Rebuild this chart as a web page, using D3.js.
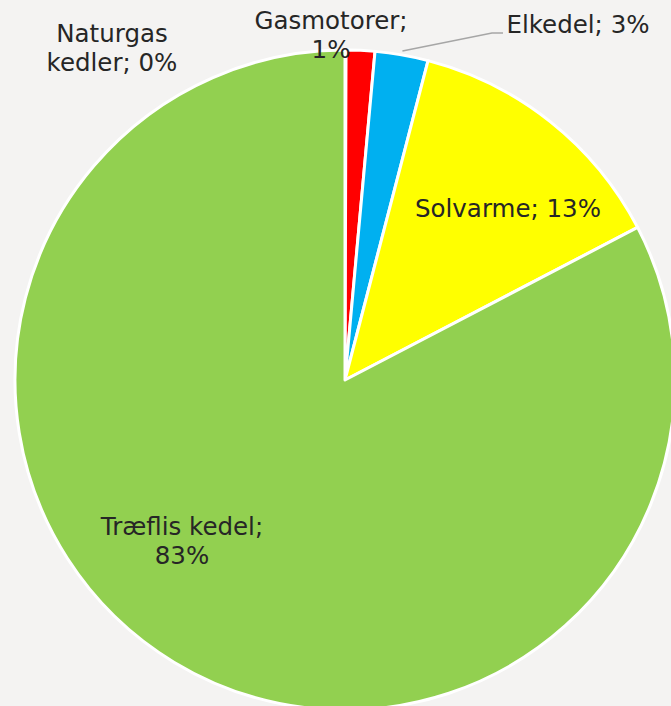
<!DOCTYPE html>
<html>
<head>
<meta charset="utf-8">
<script src="https://cdn.jsdelivr.net/npm/d3@7"></script>
<style>
  html, body { margin: 0; padding: 0; background: #f4f3f2; }
  svg { display: block; }
  .lbl { font-family: "DejaVu Sans", Verdana, sans-serif; font-size: 24.5px; fill: #262626; text-anchor: middle; }
</style>
</head>
<body>
<div id="chart"></div>
<script>
// data (share of heat production)
var categories = ["Naturgas kedler", "Gasmotorer", "Elkedel", "Solvarme", "Træflis kedel"];
var values     = [0.05, 1.4, 2.6, 13.3, 82.65];
var labelPcts  = ["0%", "1%", "3%", "13%", "83%"];
var colors     = ["#a5a5a5", "#ff0000", "#00b0f0", "#ffff00", "#92d050"];

var W = 671, H = 706;
var CX = 345, CY = 380, R = 330;

// label placement (Excel style, hand positioned), lines in px
var labelLayout = [
    { x: 112, y: 42, lines: ["Naturgas", "kedler; 0%"] },
    { x: 331, y: 29, lines: ["Gasmotorer;", "1%"] },
    { x: 578, y: 33, lines: ["Elkedel; 3%"] },
    { x: 508, y: 217, lines: ["Solvarme; 13%"] },
    { x: 182, y: 535, lines: ["Træflis kedel;", "83%"] }
];

var svg = d3.select("#chart").append("svg")
    .attr("width", W)
    .attr("height", H);

var pie = d3.pie().sort(null).value(function(d){ return d; });
var arc = d3.arc().innerRadius(0).outerRadius(R);

var g = svg.append("g").attr("transform", "translate(" + CX + "," + CY + ")");

g.selectAll("path.slice")
    .data(pie(values))
    .enter().append("path")
    .attr("class", "slice")
    .attr("d", arc)
    .attr("fill", function(d, i){ return colors[i]; })
    .attr("stroke", "#ffffff")
    .attr("stroke-width", 3)
    .attr("stroke-linejoin", "round");

// leader line for Elkedel
var elk = pie(values)[2];
var midA = (elk.startAngle + elk.endAngle) / 2;
var p0 = [CX + Math.sin(midA) * (R + 4), CY - Math.cos(midA) * (R + 4)];
svg.append("polyline")
    .attr("points", [p0, [492, 33], [503, 33]].map(function(p){ return p.join(","); }).join(" "))
    .attr("fill", "none")
    .attr("stroke", "#a6a6a6")
    .attr("stroke-width", 1.5);

var labels = svg.selectAll("text.lbl")
    .data(labelLayout)
    .enter().append("text")
    .attr("class", "lbl")
    .attr("x", function(d){ return d.x; })
    .attr("y", function(d){ return d.y; });

labels.selectAll("tspan")
    .data(function(d){ return d.lines.map(function(t){ return { t: t, x: d.x }; }); })
    .enter().append("tspan")
    .attr("x", function(d){ return d.x; })
    .attr("dy", function(d, i){ return i === 0 ? 0 : 29; })
    .text(function(d){ return d.t; });
</script>
</body>
</html>
